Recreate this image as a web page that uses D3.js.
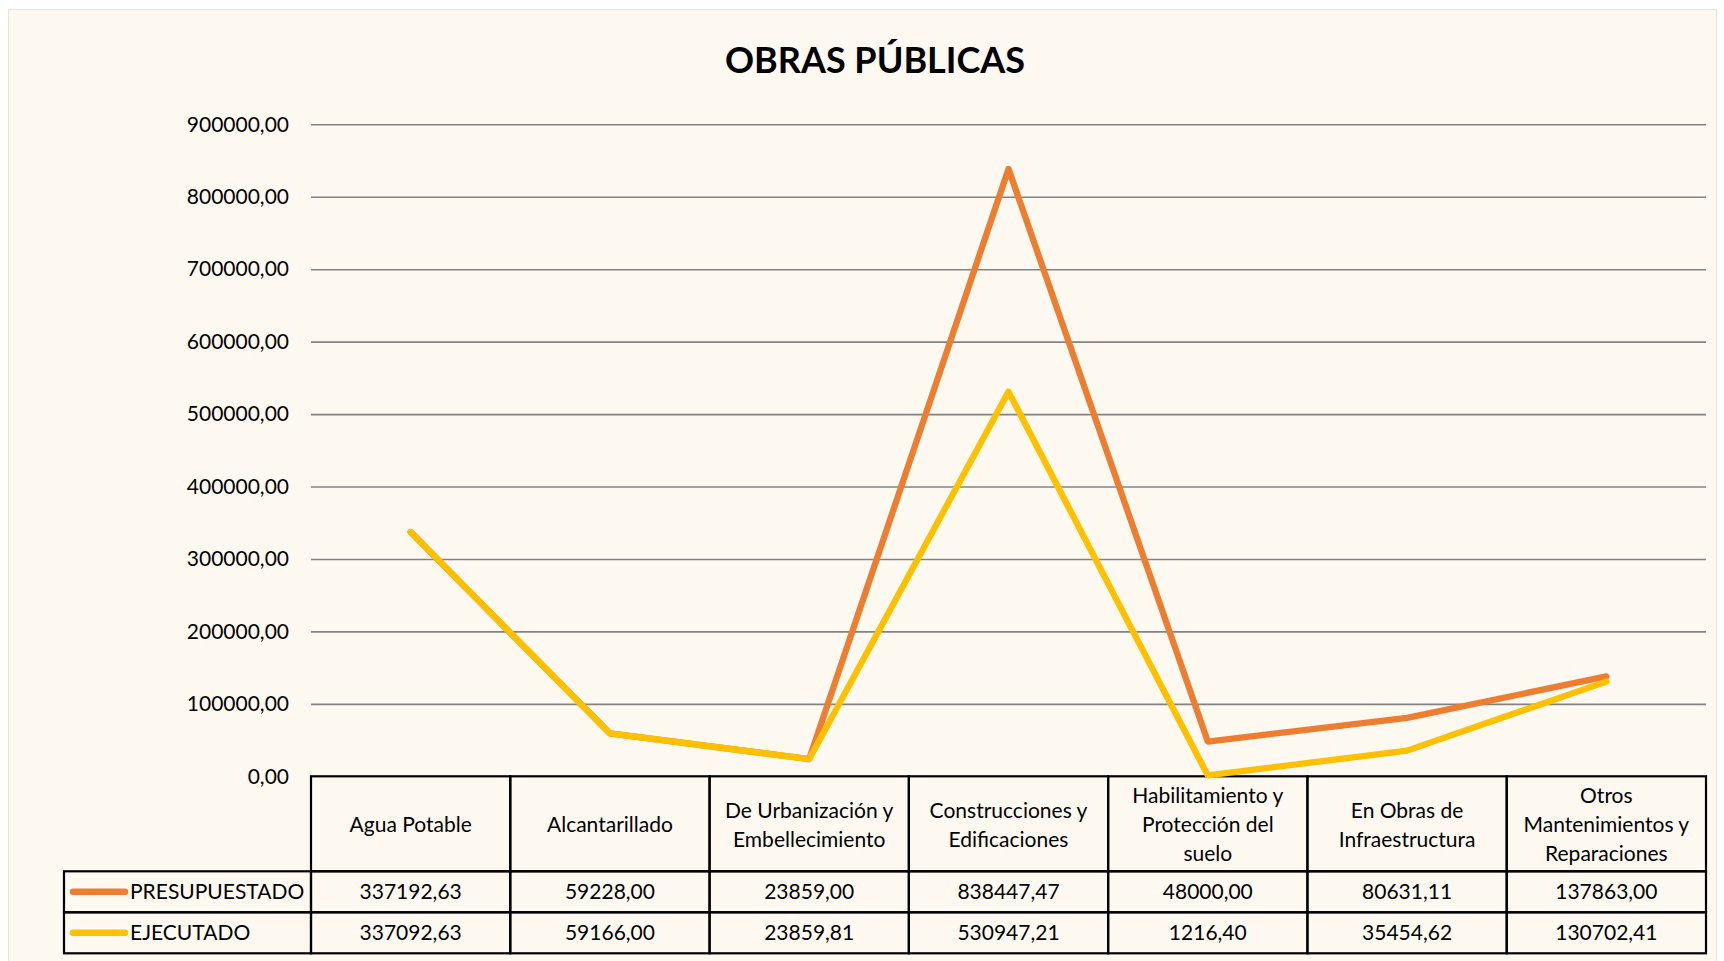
<!DOCTYPE html>
<html>
<head>
<meta charset="utf-8">
<script src="https://cdn.jsdelivr.net/npm/d3@7"></script>
<style>
  body { margin: 0; background: #fff; }
  svg { display: block; font-family: Lato, "Open Sans", sans-serif; }
</style>
</head>
<body>
<div class="chart"></div>
<script>
// categorias (lineas del encabezado de la tabla)
const categories = [
  ['Agua Potable'],
  ['Alcantarillado'],
  ['De Urbanización y', 'Embellecimiento'],
  ['Construcciones y', 'Edificaciones'],
  ['Habilitamiento y', 'Protección del', 'suelo'],
  ['En Obras de', 'Infraestructura'],
  ['Otros', 'Mantenimientos y', 'Reparaciones']
];
const presupuestado = [337192.63, 59228.00, 23859.00, 838447.47, 48000.00, 80631.11, 137863.00];
const ejecutado = [337092.63, 59166.00, 23859.81, 530947.21, 1216.40, 35454.62, 130702.41];
const yTicks = [0, 100000, 200000, 300000, 400000, 500000, 600000, 700000, 800000, 900000];

const series = [
  { name: 'PRESUPUESTADO', color: '#ED7D31', values: presupuestado },
  { name: 'EJECUTADO', color: '#FFC000', values: ejecutado }
];

// formato con coma decimal, sin separador de miles
const fmt = d3.formatLocale({ decimal: ',', thousands: '', grouping: [3], currency: ['', ''] }).format('.2f');

const width = 1724, height = 961;
const plot = { left: 311, right: 1706, top: 124.3, bottom: 776.3 };
const headerH = 95, rowH = 41;
const legendLeft = 64;

const svg = d3.select('.chart').append('svg')
  .attr('width', width).attr('height', height);

// fondo del grafico
svg.append('rect')
  .attr('x', 8.5).attr('y', 9.5).attr('width', 1708).attr('height', 960)
  .style('fill', '#FDF9F1').style('stroke', '#E3E3E3');

const idx = d3.range(categories.length);
const xBand = d3.scaleBand().domain(idx).range([plot.left, plot.right]);
const yScale = d3.scaleLinear().domain([0, 900000]).range([plot.bottom, plot.top]);

// titulo
svg.append('text')
  .attr('x', 875).attr('y', 73)
  .attr('text-anchor', 'middle')
  .style('font-size', '36px').style('font-weight', 'bold').style('fill', '#000')
  .text('OBRAS PÚBLICAS');

// eje Y con lineas de cuadricula
const yAxis = d3.axisLeft(yScale).tickValues(yTicks).tickFormat(fmt)
  .tickSize(-(plot.right - plot.left)).tickPadding(22);
const yG = svg.append('g').attr('transform', `translate(${plot.left},0)`).call(yAxis);
yG.select('.domain').remove();
yG.selectAll('.tick line').style('stroke', '#838383').style('stroke-width', 1.6)
  .filter(d => d === 0).remove();
yG.selectAll('.tick text').style('font-size', '21px').style('fill', '#000')
  .style('font-family', 'Lato, sans-serif');

// tabla de datos
const table = svg.append('g').attr('class', 'table')
  .style('stroke', '#000').style('stroke-width', 2.2).style('fill', 'none');
const rowsTop = plot.bottom + headerH;

// celdas del encabezado
table.selectAll('.hcell').data(idx).enter().append('rect')
  .attr('x', d => xBand(d)).attr('y', plot.bottom)
  .attr('width', xBand.bandwidth()).attr('height', headerH);
// celdas de datos
series.forEach((s, r) => {
  table.append('rect')
    .attr('x', legendLeft).attr('y', rowsTop + r * rowH)
    .attr('width', plot.left - legendLeft).attr('height', rowH);
  table.selectAll(`.c${r}`).data(idx).enter().append('rect')
    .attr('x', d => xBand(d)).attr('y', rowsTop + r * rowH)
    .attr('width', xBand.bandwidth()).attr('height', rowH);
});

// texto del encabezado
const lineH = 29;
svg.append('g').selectAll('text').data(idx).enter().append('text')
  .attr('text-anchor', 'middle')
  .style('font-size', '21px').style('fill', '#000')
  .each(function (d) {
    const lines = categories[d];
    const cy = plot.bottom + headerH / 2 + 1;
    d3.select(this).selectAll('tspan').data(lines).enter().append('tspan')
      .attr('x', xBand(d) + xBand.bandwidth() / 2)
      .attr('y', (l, i) => cy + (i - (lines.length - 1) / 2) * lineH)
      .attr('dy', '0.35em')
      .text(l => l);
  });

// valores y leyenda
series.forEach((s, r) => {
  const cy = rowsTop + r * rowH + rowH / 2;
  svg.append('g').selectAll('text').data(s.values).enter().append('text')
    .attr('x', (v, i) => xBand(i) + xBand.bandwidth() / 2)
    .attr('y', cy).attr('dy', '0.36em')
    .attr('text-anchor', 'middle')
    .style('font-size', '21px').style('fill', '#000')
    .text(v => fmt(v));
  svg.append('line')
    .attr('x1', legendLeft + 9).attr('x2', legendLeft + 61)
    .attr('y1', cy).attr('y2', cy)
    .style('stroke', s.color).style('stroke-width', 6.5).style('stroke-linecap', 'round');
  svg.append('text')
    .attr('x', legendLeft + 66).attr('y', cy).attr('dy', '0.36em')
    .style('font-size', '21px').style('fill', '#000')
    .text(s.name);
});

// lineas de las series
const lineGen = d3.line()
  .x((v, i) => xBand(i) + xBand.bandwidth() / 2)
  .y(v => yScale(v));
svg.append('g').selectAll('path').data(series).enter().append('path')
  .attr('d', d => lineGen(d.values))
  .style('fill', 'none')
  .style('stroke', d => d.color)
  .style('stroke-width', 6.3)
  .style('stroke-linejoin', 'round')
  .style('stroke-linecap', 'round');
</script>
</body>
</html>
